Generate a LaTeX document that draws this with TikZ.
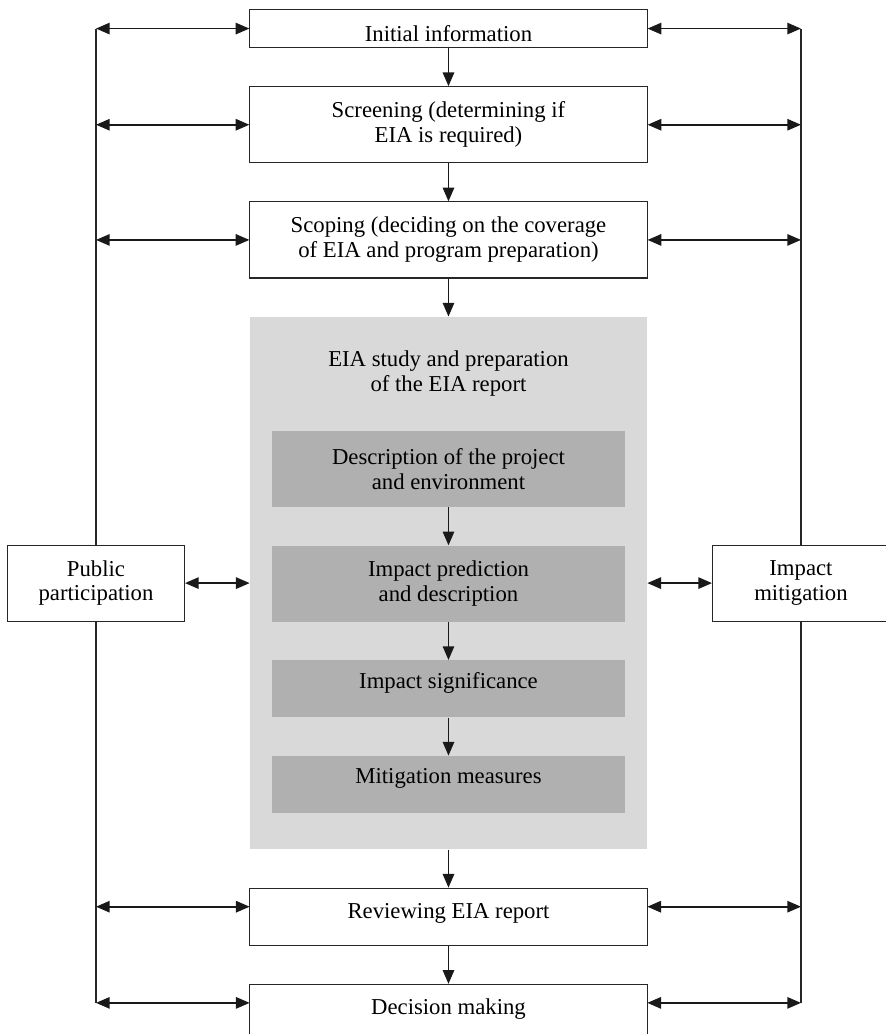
\documentclass[tikz,border=0pt]{standalone}
\usepackage{fontspec}
\setmainfont{Liberation Serif}
\usetikzlibrary{arrows.meta,positioning,calc}
\definecolor{eialight}{HTML}{D9D9D9}
\definecolor{eiadark}{HTML}{B0B0B0}
\newcommand{\eiafont}{\fontsize{17}{18.5}\selectfont}
\tikzset{
  stagebox/.style={draw=black!85, line width=0.8pt, fill=white, align=center, inner sep=0pt, minimum width=10.44cm, minimum height=1cm, font=\eiafont},
  sidebox/.style={draw=black!85, line width=0.8pt, fill=white, align=center, inner sep=0pt, minimum width=4.65cm, minimum height=2cm, font=\eiafont},
  studybox/.style={fill=eialight, inner sep=0pt, minimum width=10.44cm, minimum height=14cm},
  taskbox/.style={fill=eiadark, align=center, inner sep=0pt, minimum width=9.28cm, minimum height=2cm, font=\eiafont},
  arrow/.style={-{Triangle[length=3.6mm,width=3mm]}, line width=1.2pt, draw=black!90},
  dblarrow/.style={{Triangle[length=3.6mm,width=3mm]}-{Triangle[length=3.6mm,width=3mm]}, line width=1.2pt, draw=black!90},
  link/.style={line width=0.8pt, draw=black!85}
}

\begin{document}
\begin{tikzpicture}[node distance=1cm]
\useasboundingbox (-11.79,0.237) rectangle (11.50,-26.945);
% main column
\node[stagebox, anchor=north, text height=0.69cm, text depth=0pt] (ini) at (0,0) {Initial information};
\node[stagebox, minimum height=2cm, below=of ini] (scr) {Screening (determining if\\EIA is required)};
\node[stagebox, minimum height=2cm, below=of scr] (scp) {Scoping (deciding on the coverage\\of EIA and program preparation)};
\node[studybox, below=of scp] (study) {};
\node[font=\eiafont, align=center] (studytitle) at ($(study.north)+(0,-1.5)$) {EIA study and preparation\\of the EIA report};
\node[taskbox, below=3cm of study.north] (desc) {Description of the project\\and environment};
\node[taskbox, below=of desc] (pred) {Impact prediction\\and description};
\node[taskbox, minimum height=1.5cm, text height=0.41cm, text depth=0.45cm, below=of pred] (sig) {Impact significance};
\node[taskbox, minimum height=1.5cm, text height=0.41cm, text depth=0.45cm, below=of sig] (mit) {Mitigation measures};
\node[stagebox, minimum height=1.5cm, text height=0.41cm, text depth=0.3cm, below=of study] (rev) {Reviewing EIA report};
\node[stagebox, minimum height=2cm, text height=0.41cm, text depth=0.85cm, below=of rev] (dec) {Decision making};
% side boxes
\node[sidebox, left=1.7cm of study] (pub) {Public\\participation};
\node[sidebox, right=1.7cm of study] (mitig) {Impact\\mitigation};

\coordinate (revside) at ($(rev.north)+(0,-0.5)$);
\coordinate (decside) at ($(dec.north)+(0,-0.5)$);

% flow
\draw[arrow] (ini) -- (scr);
\draw[arrow] (scr) -- (scp);
\draw[arrow] (scp) -- (study);
\draw[arrow] (desc) -- (pred);
\draw[arrow] (pred) -- (sig);
\draw[arrow] (sig) -- (mit);
\draw[arrow] (study) -- (rev);
\draw[arrow] (rev) -- (dec);

% feedback rails
\draw[link] (pub.north) -- (pub.north |- ini);
\draw[link] (pub.south) -- (pub.south |- decside);
\draw[link] (mitig.north) -- (mitig.north |- ini);
\draw[link] (mitig.south) -- (mitig.south |- decside);
\foreach \n in {ini,scr,scp}{
  \draw[dblarrow] (pub.north |- \n.west) -- (\n.west);
  \draw[dblarrow] (\n.east) -- (mitig.north |- \n.east);
}
\foreach \n in {revside,decside}{
  \draw[dblarrow] (pub.north |- \n) -- (study.west |- \n);
  \draw[dblarrow] (study.east |- \n) -- (mitig.north |- \n);
}
\draw[dblarrow] (pub) -- (study);
\draw[dblarrow] (study) -- (mitig);
\end{tikzpicture}
\end{document}
